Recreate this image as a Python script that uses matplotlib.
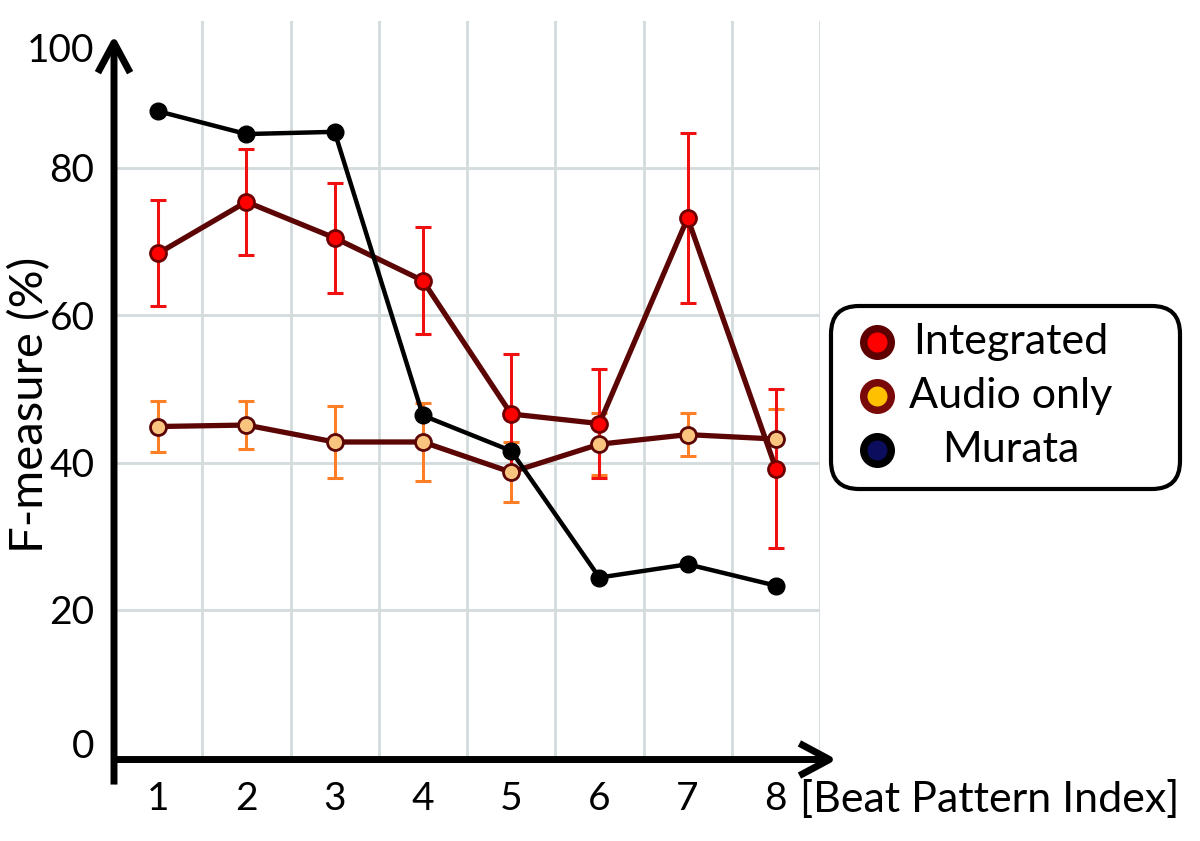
import matplotlib.pyplot as plt
import matplotlib.patches as mpatches
from matplotlib.transforms import ScaledTranslation
import numpy as np

plt.rcParams['font.family'] = ['Lato', 'DejaVu Sans']

# data
beat_idx = [1, 2, 3, 4, 5, 6, 7, 8]
x_labels = ['1', '2', '3', '4', '5', '6', '7', '8']
y_ticks = [0, 20, 40, 60, 80, 100]

integrated = [68.4, 75.4, 70.5, 64.7, 46.6, 45.3, 73.2, 39.2]
integrated_err = [7.2, 7.2, 7.5, 7.3, 8.2, 7.4, 11.5, 10.8]

audio_only = [44.9, 45.1, 42.8, 42.8, 38.7, 42.5, 43.8, 43.2]
audio_err = [3.4, 3.3, 4.9, 5.3, 4.1, 4.2, 2.9, 4.1]

murata = [87.7, 84.6, 84.9, 46.4, 41.6, 24.4, 26.2, 23.3]

legend_labels = ['Integrated', 'Audio only', 'Murata']
legend_faces = ['#ff0000', '#ffc000', '#0d0d5e']
legend_edges = ['#5e0000', '#7a0a0a', '#000000']

W, H = 1200, 841
fig = plt.figure(figsize=(W / 100, H / 100), dpi=100)
ax = fig.add_axes([114 / W, 1 - 757.3 / H, 706 / W, (757.3 - 20.6) / H])
ax.set_xlim(0.5, 8.5)
ax.set_ylim(0, 100)
for s in ax.spines.values():
    s.set_visible(False)

# grid between the beat indices
grid_c = '#d3dbdd'
ax.set_xticks(np.arange(1.5, 9.0, 1.0), minor=True)
ax.grid(which='minor', axis='x', color=grid_c, lw=2)
ax.set_yticks(y_ticks)
ax.set_yticklabels([str(v) for v in y_ticks], fontsize=28)
ax.grid(which='major', axis='y', color=grid_c, lw=2)
ax.grid(which='major', axis='x', visible=False)
gl = ax.get_ygridlines()
gl[0].set_visible(False)
gl[-1].set_visible(False)
ax.set_axisbelow(True)

ax.set_xticks(beat_idx)
ax.set_xticklabels(x_labels, fontsize=28)
ax.tick_params(which='both', length=0)
ax.tick_params(axis='x', pad=17)
ax.tick_params(axis='y', pad=14)

# the 0 and 100 labels sit off their gridlines in the original
ylabs = ax.get_yticklabels()
ylabs[0].set_transform(ylabs[0].get_transform() + ScaledTranslation(0, 0.14, fig.dpi_scale_trans))
ylabs[-1].set_transform(ylabs[-1].get_transform() + ScaledTranslation(0, -0.27, fig.dpi_scale_trans))

# series
ax.errorbar(beat_idx, integrated, yerr=integrated_err, fmt='none', ecolor='#f01010',
            elinewidth=2.2, capsize=6, capthick=2.2, zorder=3.5)
ax.errorbar(beat_idx, audio_only, yerr=audio_err, fmt='none', ecolor='#ff7f27',
            elinewidth=2.2, capsize=6, capthick=2.2, zorder=3)
ax.plot(beat_idx, audio_only, color='#5c0505', lw=3.8, marker='o', ms=11.5,
        mfc='#f9c47e', mec='#5c0505', mew=2, zorder=4)
ax.plot(beat_idx, integrated, color='#5c0505', lw=3.8, marker='o', ms=11.5,
        mfc='#ff0000', mec='#6e0000', mew=2, zorder=5)
ax.plot(beat_idx, murata, color='black', lw=3.2, marker='o', ms=12,
        mfc='black', mec='black', zorder=6)

# arrow axes
arrow = dict(arrowstyle='->,head_length=0.54,head_width=0.29', lw=5, color='black',
             mutation_scale=40, shrinkA=0, shrinkB=0, capstyle='butt')
ax.annotate('', xy=(0.5, 98.0), xytext=(0.5, -3.7), arrowprops=arrow, annotation_clip=False)
ax.annotate('', xy=(8.69, -0.3), xytext=(0.5, -0.3), arrowprops=arrow, annotation_clip=False)

fig.text(30 / W, 1 - 405 / H, 'F-measure (%)', rotation=90, ha='center', va='center', fontsize=34)
fig.text(800 / W, 1 - 800 / H, '[Beat Pattern Index]', ha='left', va='center', fontsize=31)

# legend box
lax = fig.add_axes([828 / W, 1 - 492 / H, 355 / W, 189 / H])
lax.set_xlim(0, 355)
lax.set_ylim(0, 189)
lax.axis('off')
lax.add_patch(mpatches.FancyBboxPatch((3, 3), 349, 183, boxstyle='round,pad=0,rounding_size=28',
                                      fc='white', ec='black', lw=3, clip_on=False))
for i, lab in enumerate(legend_labels):
    yy = 150 - i * 54
    lax.plot([49], [yy], marker='o', ms=19.8, mfc=legend_faces[i], mec=legend_edges[i],
             mew=5.4, clip_on=False)
    lax.text(183, yy, lab, ha='center', va='center', fontsize=31)

fig.savefig('out.png', dpi=100)
